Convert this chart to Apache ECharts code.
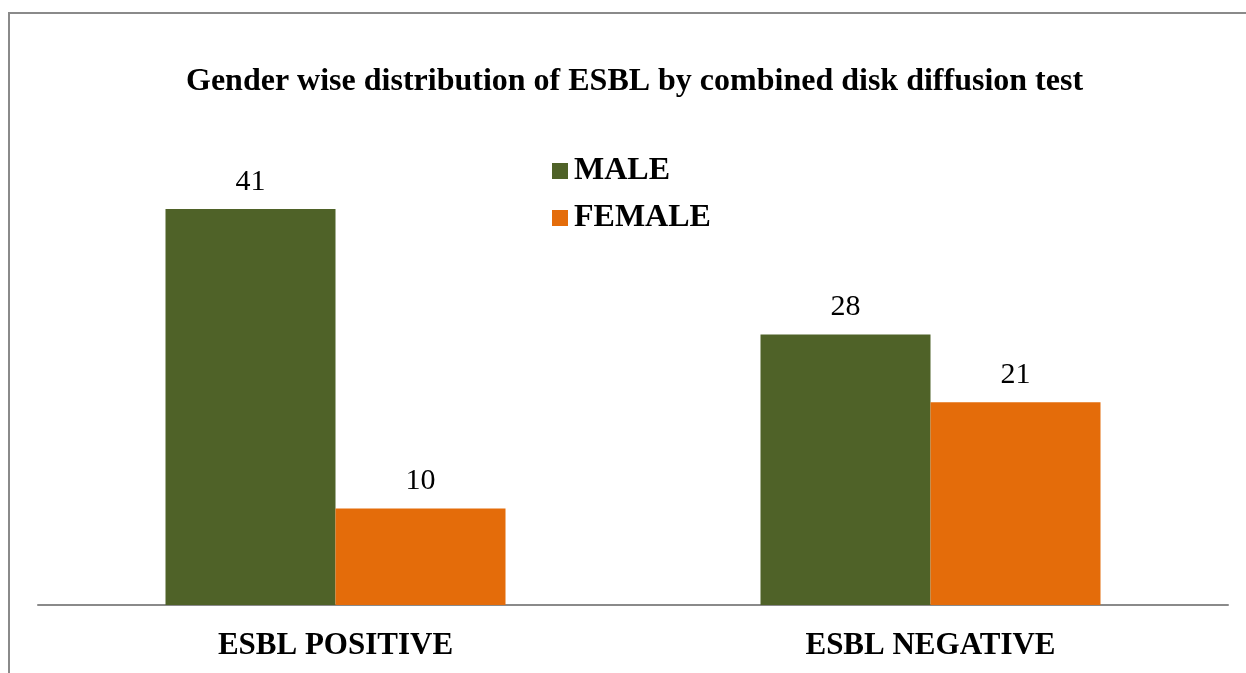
<!DOCTYPE html>
<html>
<head>
<meta charset="utf-8">
<script src="https://cdn.jsdelivr.net/npm/echarts@6/dist/echarts.min.js"></script>
<style>html,body{margin:0;padding:0;background:#fff;}#c{width:1246px;height:673px;}</style>
</head>
<body>
<div id="c"></div>
<script>
const categories = ['ESBL POSITIVE', 'ESBL NEGATIVE'];
const maleValues = [41, 28];
const femaleValues = [10, 21];
const seriesNames = ['MALE', 'FEMALE'];

const chart = echarts.init(document.getElementById('c'));
const serif = '"Liberation Serif", "Times New Roman", serif';
chart.setOption({
  animation: false,
  backgroundColor: '#fff',
  textStyle: { fontFamily: serif },
  graphic: [{
    type: 'polyline',
    shape: { points: [[9, 700], [9, 13], [1260, 13]] },
    style: { stroke: '#8a8a8a', lineWidth: 2, fill: null }
  }],
  title: {
    text: 'Gender wise distribution of ESBL by combined disk diffusion test',
    left: 181,
    top: 61,
    textStyle: { fontFamily: serif, fontWeight: 'bold', fontSize: 32, color: '#000' }
  },
  legend: {
    orient: 'vertical',
    left: 547,
    top: 150,
    itemWidth: 16,
    itemHeight: 16,
    itemGap: 15,
    icon: 'rect',
    data: seriesNames,
    textStyle: { fontFamily: serif, fontWeight: 'bold', fontSize: 32, color: '#000', padding: [0, 0, 0, 1] }
  },
  grid: { left: 38, right: 18, top: 122, bottom: 68 },
  xAxis: {
    type: 'category',
    data: categories,
    axisLine: { lineStyle: { color: '#8a8a8a', width: 2 } },
    axisTick: { show: false },
    axisLabel: { fontFamily: serif, fontWeight: 'bold', fontSize: 31, color: '#000', margin: 25 }
  },
  yAxis: {
    type: 'value', min: 0, max: 50,
    show: false,
    splitLine: { show: false }
  },
  series: [
    {
      name: seriesNames[0], type: 'bar', data: maleValues, barWidth: 170, barGap: '0%',
      itemStyle: { color: '#4f6228' },
      label: { show: true, position: 'top', distance: 12, fontFamily: serif, fontSize: 30, color: '#000' }
    },
    {
      name: seriesNames[1], type: 'bar', data: femaleValues, barWidth: 170, barGap: '0%',
      itemStyle: { color: '#e46c0a' },
      label: { show: true, position: 'top', distance: 12, fontFamily: serif, fontSize: 30, color: '#000' }
    }
  ]
});
</script>
</body>
</html>
